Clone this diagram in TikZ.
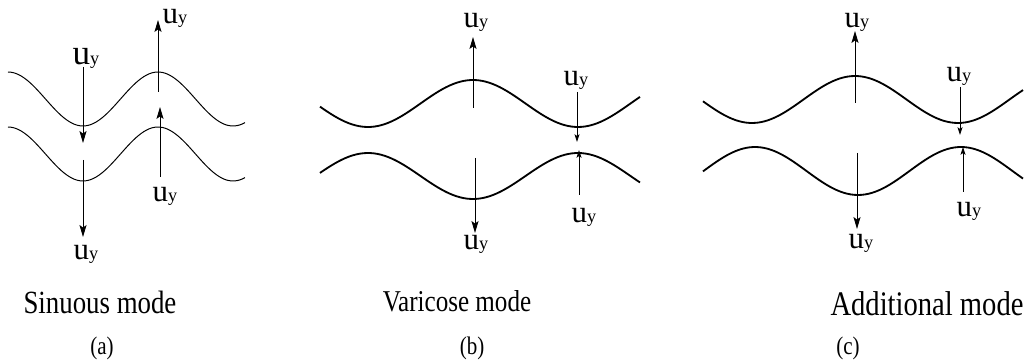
\documentclass[tikz,border=0pt]{standalone}
\usepackage{fontspec}
\setmainfont{Liberation Serif}
\newfontfamily\capfont[FakeStretch=0.83]{Liberation Serif}
\usetikzlibrary{arrows.meta}

\tikzset{
  wave/.style={black, line width=1.3pt},
  thinwave/.style={black, line width=0.7pt},
  vec/.style={-{Stealth[length=8.5pt,width=5pt,inset=1.8pt]}, line width=0.6pt},
  smallvec/.style={-{Stealth[length=5.5pt,width=3.5pt,inset=1.2pt]}, line width=0.6pt},
  lbl/.style={anchor=base, inner sep=0pt, font=\fontsize{22}{22}\selectfont},
  biglbl/.style={lbl, font=\fontsize{25}{25}\selectfont},
  modecap/.style={anchor=base, inner sep=0pt, font=\capfont\fontsize{23}{23}\selectfont},
  subcap/.style={anchor=base, inner sep=0pt, font=\capfont\fontsize{18}{18}\selectfont},
}
\newcommand{\uy}{u{\fontsize{13}{13}\selectfont y}}

\begin{document}
\begin{tikzpicture}[x=0.025cm, y=-0.025cm]
  \useasboundingbox (0,0) rectangle (1028,360);

  % --- (a) sinuous: both interfaces in phase ---
  \draw[thinwave] plot[domain=8:245, samples=90, smooth] (\x, {99-27*cos(2.4*(\x-8))});
  \draw[thinwave] plot[domain=8:245, samples=90, smooth] (\x, {154-27*cos(2.4*(\x-8))});

  % --- (b) varicose: interfaces mirrored ---
  \draw[wave] plot[domain=320:640, samples=90, smooth] (\x, {103.5-23.5*cos(1.7143*(\x-473))});
  \draw[wave] plot[domain=320:640, samples=90, smooth] (\x, {176+23*cos(1.7143*(\x-473))});

  % --- (c) additional mode ---
  \draw[wave] plot[domain=703:1023, samples=90, smooth] (\x, {99.5-23.5*cos(1.7476*(\x-855))});
  \draw[wave] plot[domain=703:1023, samples=90, smooth] (\x, {171+24*cos(1.7476*(\x-858))});

  % --- velocity arrows: name/x/start/end/style ---
  \foreach \n/\x/\ya/\yb/\st in {a1/83/67/143/vec, a2/83/160/237/vec, a3/158/92/20/vec, a4/160/177/107/vec,
                                 b1/473/108/37/vec, b2/577/92/142/smallvec, b3/475/158/233/vec, b4/579/195/150/smallvec,
                                 c1/855/103/31/vec, c2/960/87/135/smallvec, c3/857/153/229/vec, c4/963/192/147/smallvec}
  {
    \coordinate (\n s) at (\x,\ya);
    \coordinate (\n e) at (\x,\yb);
    \draw[\st] (\n s) -- (\n e);
  }

  % --- u_y labels ---
  \node[biglbl] (ua1) at (86,65) {\uy};
  \node[lbl] (ua2) at (175,24) {\uy};
  \node[lbl] (ua3) at (165,202) {\uy};
  \node[lbl] (ua4) at (86,260) {\uy};

  \node[lbl] (ub1) at (476,28) {\uy};
  \node[lbl] (ub2) at (576,86) {\uy};
  \node[lbl] (ub3) at (476,250) {\uy};
  \node[lbl] (ub4) at (584,223) {\uy};

  \node[lbl] (uc1) at (857,28) {\uy};
  \node[lbl] (uc2) at (959,82) {\uy};
  \node[lbl] (uc3) at (861,249) {\uy};
  \node[lbl] (uc4) at (969,217) {\uy};

  % --- captions ---
  \node[modecap] (capa) at (100,314) {Sinuous mode};
  \node[modecap, font=\capfont\fontsize{21.5}{21.5}\selectfont] (capb) at (457,312) {Varicose mode};
  \node[modecap, font=\capfont\fontsize{24.5}{24.5}\selectfont] (capc) at (927,315) {Additional mode};
  \node[subcap] (suba) at (102,354) {(a)};
  \node[subcap] (subb) at (472,354) {(b)};
  \node[subcap] (subc) at (848,354) {(c)};
\end{tikzpicture}
\end{document}
